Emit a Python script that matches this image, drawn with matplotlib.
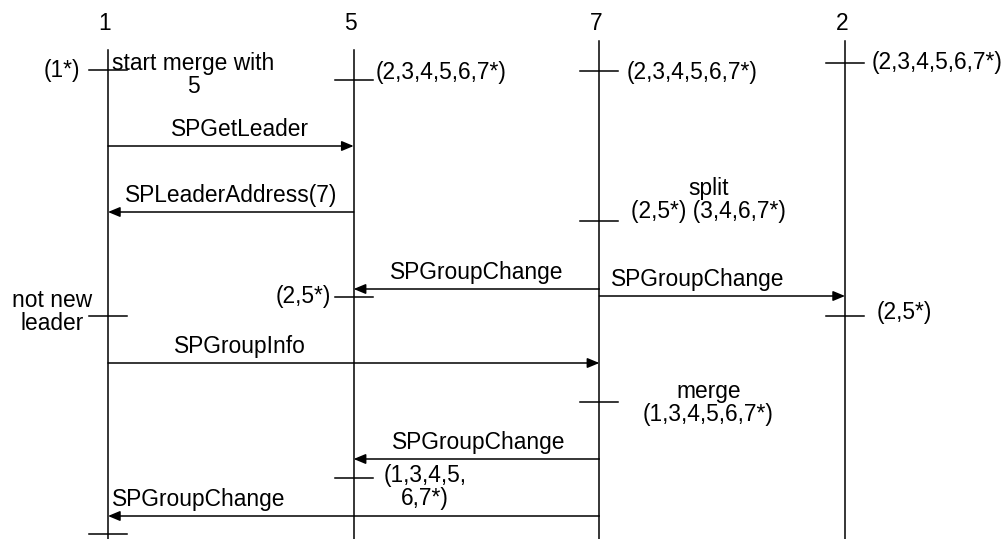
import matplotlib
matplotlib.use('Agg')
import matplotlib.pyplot as plt

plt.rcParams['font.family'] = ['Liberation Sans', 'DejaVu Sans']

# lifelines (processes) from left to right
procs = ['1', '5', '7', '2']
life_start = [50, 50, 41, 41]          # y where each lifeline begins

# messages: from lifeline index -> to lifeline index, at time (y)
msg_src = [0, 1, 2, 2, 0, 2, 2]
msg_dst = [1, 0, 1, 3, 2, 1, 0]
msg_time = [146, 212, 289, 296, 363, 459, 516]
msg_text = ['SPGetLeader', 'SPLeaderAddress(7)', 'SPGroupChange', 'SPGroupChange',
            'SPGroupInfo', 'SPGroupChange', 'SPGroupChange']
msg_label_x = [0.537, 0.50, 1.50, 2.40, 0.537, 1.51, 0.37]

# local events (tick on a lifeline) with their notes
ev_line = [0, 1, 2, 3, 2, 1, 0, 3, 2, 1, 0]
ev_time = [70, 80, 71, 63, 221, 297, 316, 316, 402, 478, 534]
ev_text = ['(1*)', '(2,3,4,5,6,7*)', '(2,3,4,5,6,7*)', '(2,3,4,5,6,7*)',
           'split\n(2,5*) (3,4,6,7*)', '(2,5*)', 'not new\nleader', '(2,5*)',
           'merge\n(1,3,4,5,6,7*)', '(1,3,4,5,\n6,7*)', '']
# where each note sits relative to its tick (pixels) and its alignment
ev_off = [(-28, 0), (22, -8), (27, 1), (27, -1), (109, -21), (-23, 0),
          (-56, -4), (32, -3), (109, 1), (71, 9), (0, 0)]
ev_ha = ['right', 'left', 'left', 'left', 'center', 'right', 'center',
         'left', 'center', 'center', 'center']

W, H = 1004, 539
px = 245.67          # pixels between lifelines
x0 = 108             # pixel of first lifeline
fs = 16.4
lw = 1.1

fig = plt.figure(figsize=(W / 100, H / 100), dpi=100)
ax = fig.add_axes([0, 0, 1, 1])
ax.set_xlim(-x0 / px, (W - x0) / px)
ax.set_ylim(H, 0)
ax.axis('off')

for i, name in enumerate(procs):
    ax.plot([i, i], [life_start[i], H], color='black', lw=lw)
    ax.annotate(name, (i, 24), xytext=(-3, 0), textcoords='offset pixels',
                ha='center', va='center', fontsize=fs)

tick = 19 / px
for ln, t, txt, off, ha in zip(ev_line, ev_time, ev_text, ev_off, ev_ha):
    ax.plot([ln - tick, ln + tick], [t, t], color='black', lw=lw)
    if txt:
        ax.annotate(txt, (ln, t), xytext=(off[0], -off[1]), textcoords='offset pixels',
                    ha=ha, va='center', fontsize=fs, multialignment='center',
                    linespacing=1.05)

ax.annotate('start merge with\n5', (0, 75), xytext=(85, 0), textcoords='offset pixels',
            ha='center', va='center', fontsize=fs, linespacing=1.05)

for s, d, t, txt, lx in zip(msg_src, msg_dst, msg_time, msg_text, msg_label_x):
    ax.annotate('', xy=(d, t), xytext=(s, t),
                arrowprops=dict(arrowstyle='-|>,head_length=0.6,head_width=0.25',
                                mutation_scale=12, lw=lw, color='black',
                                shrinkA=0, shrinkB=0))
    ax.annotate(txt, (lx, t), xytext=(0, 10), textcoords='offset pixels',
                ha='center', va='baseline', fontsize=fs)

fig.savefig('out.png', dpi=100)
